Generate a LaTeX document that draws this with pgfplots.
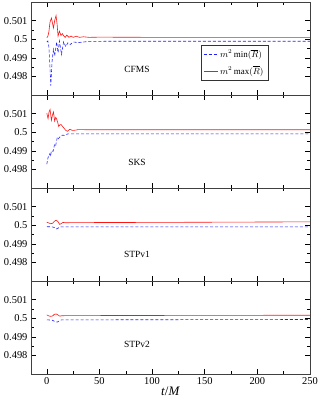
\documentclass[border=0pt]{standalone}
\usepackage{fontspec}
\setmainfont{Liberation Serif}
\usepackage{pgfplots}
\pgfplotsset{compat=1.18}
\usepgfplotslibrary{groupplots}
\usetikzlibrary{calc}
\definecolor{rred}{RGB}{255,20,20}
\definecolor{bblue}{RGB}{30,30,255}
\begin{document}
\begin{tikzpicture}
\begin{groupplot}[
  group style={group size=1 by 4, vertical sep=0pt, xticklabels at=edge bottom},
  width=279bp, height=93bp, scale only axis,
  xmin=-15, xmax=250, ymin=0.497, ymax=0.502,
  xtick={0,50,100,150,200,250}, minor x tick num=1,
  ytick={0.498,0.499,0.5,0.501}, minor y tick num=1,
  tick align=inside, tick pos=both,
  major tick length=5bp, minor tick length=3bp,
  every tick/.style={black, line width=0.5pt},
  axis line style={black!75, line width=0.8pt},
  /pgf/number format/assume math mode=true,
  yticklabel style={/pgf/number format/fixed, /pgf/number format/precision=3, font=\fontsize{10.5}{12}\selectfont},
  xticklabel style={font=\fontsize{10.5}{12}\selectfont},
  scaled y ticks=false,
  every axis plot/.append style={line width=0.6pt},
]
\nextgroupplot[
  legend style={at={(0.85,0.54)}, anchor=north east, font=\fontsize{9}{11}\selectfont, draw=black!80, inner sep=2.5pt, row sep=3pt},
  legend cell align=left,
  legend image code/.code={\draw[#1] (0bp,0bp) -- (14bp,0bp);},
]
\addplot[bblue, dashed, dash pattern=on 3pt off 2pt] coordinates {(0,0.49985)(1,0.4999)(2,0.4996)(3,0.4985)(3.8,0.4975)(5,0.4988)(6.3,0.49945)(7.5,0.4991)(9.4,0.49985)(10.7,0.49927)(12,0.4999)(14,0.49918)(16,0.49986)(18,0.4996)(20,0.4998)(22,0.4997)(25,0.49985)(30,0.49982)(40,0.49988)(60,0.49989)(250,0.49989)};
\addlegendentry{$m^{2}\,\mathrm{min}(\overline{R})$}
\addplot[rred] coordinates {(0,0.50008)(1,0.50015)(2,0.5004)(3,0.5009)(4.4,0.50114)(5.3,0.5009)(6.3,0.5006)(7.5,0.5010)(8.8,0.50127)(9.8,0.5008)(10.7,0.50016)(12,0.50043)(13.5,0.5002)(14.8,0.5003)(16,0.50018)(17.5,0.5001)(19,0.50022)(21,0.5001)(23,0.50017)(25,0.5001)(28,0.50016)(31,0.5001)(35,0.50013)(40,0.5001)(50,0.50011)(100,0.5001)(250,0.5001)};
\addlegendentry{$m^{2}\,\mathrm{max}(\overline{R})$}
\node[font=\fontsize{9.5}{11}\selectfont] at (rel axis cs:0.38,0.28) {CFMS};
\nextgroupplot
\addplot[bblue, dashed, dash pattern=on 3pt off 2pt] coordinates {(0,0.49828)(1.2,0.49864)(2.8,0.49883)(3.5,0.4987)(4.4,0.49901)(6,0.49897)(7.5,0.49937)(8.5,0.4993)(10,0.49973)(11,0.49965)(12.7,0.49976)(14.6,0.49984)(17,0.49983)(20,0.49991)(30,0.49991)(250,0.49991)};
\addplot[rred] coordinates {(0,0.50103)(1.2,0.50073)(2.2,0.5011)(3.1,0.50122)(4.4,0.50064)(5.3,0.5009)(6.3,0.50109)(7.5,0.5006)(8.5,0.5008)(9.4,0.5007)(10.5,0.5005)(11.3,0.50031)(12.5,0.5004)(13.8,0.5004)(15,0.5003)(16,0.50024)(18,0.5001)(19.5,0.50005)(22,0.50016)(24,0.5001)(26,0.5001)(30,0.50014)(40,0.50013)(250,0.50013)};
\node[font=\fontsize{9.5}{11}\selectfont] at (rel axis cs:0.38,0.276) {SKS};
\nextgroupplot
\addplot[bblue, dashed, dash pattern=on 3pt off 2pt] coordinates {(0,0.49992)(5,0.49991)(7,0.49988)(9.4,0.4998)(11,0.49985)(13,0.49991)(250,0.49991)};
\addplot[rred] coordinates {(0,0.50016)(2,0.50012)(3.5,0.50008)(5.5,0.5001)(7,0.5002)(8.8,0.50027)(10.5,0.5002)(12.3,0.50004)(14,0.5001)(15.4,0.50015)(18,0.50013)(25,0.50014)(100,0.50015)(250,0.50018)};
\node[font=\fontsize{9.5}{11}\selectfont] at (rel axis cs:0.38,0.29) {STPv1};
\nextgroupplot[xlabel={\textit{t}/\textit{M}}, xlabel style={font=\fontsize{13}{15}\selectfont, yshift=4bp}]
\addplot[bblue, dashed, dash pattern=on 3pt off 2pt] coordinates {(0,0.49991)(5,0.4999)(7,0.49984)(10,0.49979)(12,0.49986)(14,0.49991)(250,0.49993)};
\addplot[rred] coordinates {(0,0.50018)(2,0.50012)(3.5,0.5001)(5.5,0.50012)(7,0.5002)(8.8,0.50023)(10.5,0.50018)(12.3,0.50011)(14,0.50013)(20,0.50014)(250,0.50016)};
\node[font=\fontsize{9.5}{11}\selectfont] at (rel axis cs:0.38,0.315) {STPv2};
\end{groupplot}
\pgfresetboundingbox
\path ($(group c1r1.north west)+(-31bp,2bp)$) rectangle ($(group c1r4.south east)+(11bp,-29bp)$);
\end{tikzpicture}
\end{document}
